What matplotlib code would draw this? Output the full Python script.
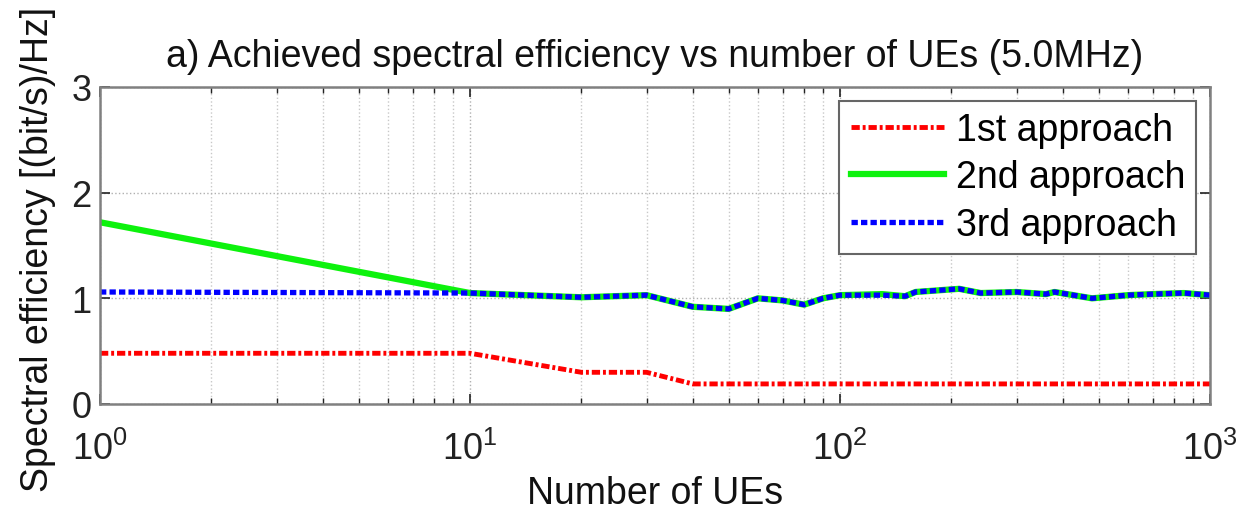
import numpy as np
import matplotlib.pyplot as plt
from matplotlib.ticker import LogLocator, NullFormatter

plt.rcParams['font.family'] = ['Liberation Sans', 'DejaVu Sans']
plt.rcParams['mathtext.fontset'] = 'custom'
plt.rcParams['mathtext.rm'] = 'Liberation Sans'
plt.rcParams['mathtext.default'] = 'regular'

# number of UEs and spectral efficiency of each approach
num_ues = [1, 10, 20, 30, 40, 50, 60, 70, 80, 90, 100, 130, 150, 160,
           210, 240, 300, 360, 380, 480, 600, 700, 850, 1000]
se_1st = [0.48, 0.48, 0.30, 0.30, 0.19, 0.19, 0.19, 0.19, 0.19, 0.19, 0.19, 0.19,
          0.19, 0.19, 0.19, 0.19, 0.19, 0.19, 0.19, 0.19, 0.19, 0.19, 0.19, 0.19]
se_2nd = [1.72, 1.05, 1.01, 1.03, 0.92, 0.90, 1.00, 0.98, 0.94, 1.00, 1.03, 1.04,
          1.02, 1.06, 1.09, 1.05, 1.06, 1.04, 1.06, 1.00, 1.03, 1.04, 1.05, 1.03]
se_3rd = [1.06, 1.05, 1.01, 1.03, 0.92, 0.90, 1.00, 0.98, 0.94, 1.00, 1.03, 1.03,
          1.02, 1.06, 1.09, 1.05, 1.06, 1.04, 1.06, 1.00, 1.03, 1.04, 1.05, 1.03]
labels = ['1st approach', '2nd approach', '3rd approach']
title = 'a) Achieved spectral efficiency vs number of UEs (5.0MHz)'

fig = plt.figure(figsize=(12.53, 5.10), dpi=100)
ax = fig.add_axes([100 / 1253, 1 - 405 / 510, 1110 / 1253, 317 / 510])

ax.plot(num_ues, se_1st, color=(1, 0, 0), lw=3.5, ls=(0, (1.7, 0.6, 0.6, 0.6)),
        label=labels[0])
ax.plot(num_ues, se_2nd, color=(0.05, 0.95, 0.05), lw=4.5, ls='-', label=labels[1])
ax.plot(num_ues, se_3rd, color=(0, 0, 1), lw=3.8, ls=(0, (1.2, 0.6)),
        label=labels[2])

ax.set_xscale('log')
ax.set_xlim(1, 1000)
ax.set_ylim(0, 3)
ax.set_yticks([0, 1, 2, 3])
ax.xaxis.set_major_locator(LogLocator(base=10, numticks=10))
ax.xaxis.set_minor_locator(LogLocator(base=10, subs=np.arange(2, 10), numticks=20))
ax.xaxis.set_minor_formatter(NullFormatter())

ax.grid(True, which='major', ls=':', color='#b0b0b0', lw=1)
ax.grid(True, which='minor', axis='x', ls=':', color='#c8c8c8', lw=1)
ax.tick_params(which='both', direction='in', top=True, right=True,
               labelsize=26, colors='#222222')
ax.tick_params(which='major', length=7, width=1.2)
ax.tick_params(which='minor', length=4, width=1)
ax.tick_params(axis='x', pad=19)
ax.tick_params(axis='y', pad=6)
for sp in ax.spines.values():
    sp.set_color('#808080')
    sp.set_linewidth(1.8)

ax.set_title(title, fontsize=27, pad=15, color='#111111')
ax.set_xlabel('Number of UEs', fontsize=27, labelpad=6, color='#111111')
ax.set_ylabel('Spectral efficiency [(bit/s)/Hz]', fontsize=27, color='#111111')
ax.yaxis.set_label_coords(-0.04, 0.49)

leg = ax.legend(loc='upper right', fontsize=27, handlelength=2.5,
                handletextpad=0.3, fancybox=False, framealpha=1,
                edgecolor='#666666', borderaxespad=0.37, borderpad=0.3,
                labelspacing=0.3)
leg.get_frame().set_linewidth(1.5)

fig.savefig('out.png', dpi=100)
